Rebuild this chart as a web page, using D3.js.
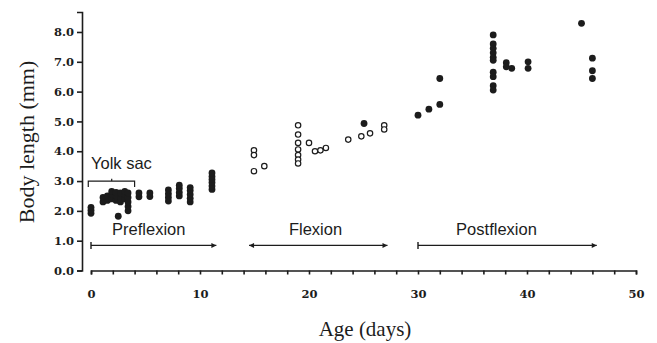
<!DOCTYPE html>
<html>
<head>
<meta charset="utf-8">
<script src="https://cdn.jsdelivr.net/npm/d3@7"></script>
<style>
  body { margin: 0; background: #fff; }
  svg { display: block; }
</style>
</head>
<body>
<div id="chart"></div>
<script>
// values: [age (days), body length (mm)]
const preflexionDots = [
    [0, 1.92], [0, 2.02], [0, 2.12],
    [1.1, 2.3], [1.1, 2.45], [1.5, 2.35], [1.5, 2.5], [1.9, 2.4], [1.9, 2.55], [1.9, 2.65],
    [2.3, 2.35], [2.3, 2.5], [2.3, 2.62], [2.5, 1.82], [2.7, 2.3], [2.7, 2.45], [2.7, 2.6],
    [3.1, 2.4], [3.1, 2.55], [3.1, 2.65], [3.4, 2.0], [3.4, 2.15], [3.4, 2.3], [3.4, 2.45], [3.4, 2.6],
    [4.4, 2.47], [4.4, 2.6], [5.4, 2.48], [5.4, 2.6],
    [7.1, 2.33], [7.1, 2.45], [7.1, 2.57], [7.1, 2.7],
    [8.1, 2.5], [8.1, 2.62], [8.1, 2.75], [8.1, 2.86],
    [9.1, 2.3], [9.1, 2.42], [9.1, 2.55], [9.1, 2.68], [9.1, 2.78],
    [11.1, 2.72], [11.1, 2.83], [11.1, 2.95], [11.1, 3.05], [11.1, 3.15], [11.1, 3.27]
];
const flexionOpen = [
    [14.95, 4.03], [14.95, 3.87], [14.95, 3.33], [15.9, 3.5],
    [19, 4.87], [19, 4.56], [19, 4.28], [19, 4.06], [19, 3.87], [19, 3.72], [19, 3.59],
    [20, 4.28], [20.55, 4.0], [21.05, 4.03], [21.55, 4.11], [23.6, 4.39], [24.8, 4.5],
    [25.6, 4.6], [26.9, 4.87], [26.9, 4.73]
];
const flexionFilled = [[25.05, 4.93]];
const postflexionDots = [
    [30, 5.21], [31, 5.41], [32, 5.57], [32, 6.44],
    [36.9, 7.9], [36.9, 7.6], [36.9, 7.45], [36.9, 7.3], [36.9, 7.15], [36.9, 7.05],
    [36.9, 6.65], [36.9, 6.5], [36.9, 6.2], [36.9, 6.05],
    [38.1, 6.97], [38.1, 6.83], [38.6, 6.78], [40.1, 7.0], [40.1, 6.78],
    [45, 8.29], [46, 7.12], [46, 6.7], [46, 6.44]
];

// developmental stages (day ranges) and their labels
const stageNames = ["Preflexion", "Flexion", "Postflexion"];
const stageStart = [0, 14.5, 30];
const stageEnd = [11.5, 27.2, 46.4];
const stageLabelAt = [5.3, 20.6, 37.2];
const yolkSac = [-0.25, 4.0];

const xTicks = d3.range(0, 51, 2);
const yTicks = d3.range(0, 9, 1);

const width = 657, height = 343;
const ink = "#1c1c1c";

const svg = d3.select("#chart").append("svg")
    .attr("width", width)
    .attr("height", height);

const x = d3.scaleLinear().domain([0, 50]).range([91, 636]);
const y = d3.scaleLinear().domain([0, 8.67]).range([270.5, 12]);

// arrowhead marker
const defs = svg.append("defs");
defs.append("marker")
    .attr("id", "head")
    .attr("viewBox", "0 0 10 10")
    .attr("refX", 10).attr("refY", 5)
    .attr("markerWidth", 6).attr("markerHeight", 5)
    .attr("markerUnits", "userSpaceOnUse")
    .attr("orient", "auto-start-reverse")
    .append("path")
    .attr("d", "M0,0L10,5L0,10Z")
    .attr("fill", ink);

// y axis
const yAxis = svg.append("g")
    .attr("transform", "translate(82,0)")
    .call(d3.axisLeft(y).tickValues(yTicks).tickSize(5).tickPadding(3)
        .tickFormat(d3.format(".1f")));
yAxis.selectAll("text")
    .style("font-family", "'DejaVu Serif', serif")
    .style("font-weight", "bold")
    .style("font-size", "11.5px")
    .attr("fill", ink);
yAxis.selectAll("path, line").attr("stroke", ink).attr("stroke-width", 1.6);

// x axis
const xAxis = svg.append("g")
    .attr("transform", "translate(0,270.5)")
    .call(d3.axisBottom(x).tickValues(xTicks).tickSize(4).tickSizeOuter(4).tickPadding(15)
        .tickFormat(d => d % 10 === 0 ? d : ""));
xAxis.selectAll("text")
    .style("font-family", "'DejaVu Serif', serif")
    .style("font-weight", "bold")
    .style("font-size", "11.5px")
    .attr("fill", ink);
xAxis.selectAll("path, line").attr("stroke", ink).attr("stroke-width", 1.6);

// axis titles
svg.append("text")
    .attr("transform", "translate(33.5,142) rotate(-90)")
    .attr("text-anchor", "middle")
    .style("font-family", "'Liberation Serif', serif")
    .style("font-size", "22px")
    .attr("fill", ink)
    .text("Body length (mm)");

svg.append("text")
    .attr("x", 365).attr("y", 335.5)
    .attr("text-anchor", "middle")
    .style("font-family", "'Liberation Serif', serif")
    .style("font-size", "21px")
    .attr("fill", ink)
    .text("Age (days)");

// stage arrows
const arrowY = y(0.84);
const stages = svg.append("g");
stageNames.forEach((name, i) => {
    const line = stages.append("line")
        .attr("x1", x(stageStart[i])).attr("x2", x(stageEnd[i]))
        .attr("y1", arrowY).attr("y2", arrowY)
        .attr("stroke", ink).attr("stroke-width", 1.2)
        .attr("marker-end", "url(#head)");
    if (name === "Flexion") {
        line.attr("marker-start", "url(#head)");
    } else {
        stages.append("line")
            .attr("x1", x(stageStart[i])).attr("x2", x(stageStart[i]))
            .attr("y1", arrowY - 3.5).attr("y2", arrowY + 3.5)
            .attr("stroke", ink).attr("stroke-width", 1.4);
    }
    stages.append("text")
        .attr("x", x(stageLabelAt[i])).attr("y", y(1.18))
        .attr("text-anchor", "middle")
        .style("font-family", "'Liberation Sans', sans-serif")
        .style("font-size", "16.5px")
        .attr("fill", ink)
        .text(name);
});

// yolk sac bracket
const bx0 = x(yolkSac[0]), bx1 = x(yolkSac[1]), by = y(3.0);
svg.append("path")
    .attr("d", `M${bx0},${y(2.8)}V${by}H${bx1}V${y(2.8)}M${x(1.9)},${by}V${y(3.08)}`)
    .attr("fill", "none")
    .attr("stroke", ink)
    .attr("stroke-width", 1.2);
svg.append("text")
    .attr("x", 91).attr("y", y(3.4))
    .style("font-family", "'Liberation Sans', sans-serif")
    .style("font-size", "16.5px")
    .attr("fill", ink)
    .text("Yolk sac");

// points
const pts = svg.append("g");
pts.selectAll("circle.open")
    .data(flexionOpen)
    .enter().append("circle")
    .attr("class", "open")
    .attr("cx", d => x(d[0])).attr("cy", d => y(d[1]))
    .attr("r", 2.7)
    .attr("fill", "#fff")
    .attr("stroke", ink)
    .attr("stroke-width", 1.2);

pts.selectAll("circle.filled")
    .data(preflexionDots.concat(flexionFilled, postflexionDots))
    .enter().append("circle")
    .attr("class", "filled")
    .attr("cx", d => x(d[0])).attr("cy", d => y(d[1]))
    .attr("r", 3.4)
    .attr("fill", ink);
</script>
</body>
</html>
